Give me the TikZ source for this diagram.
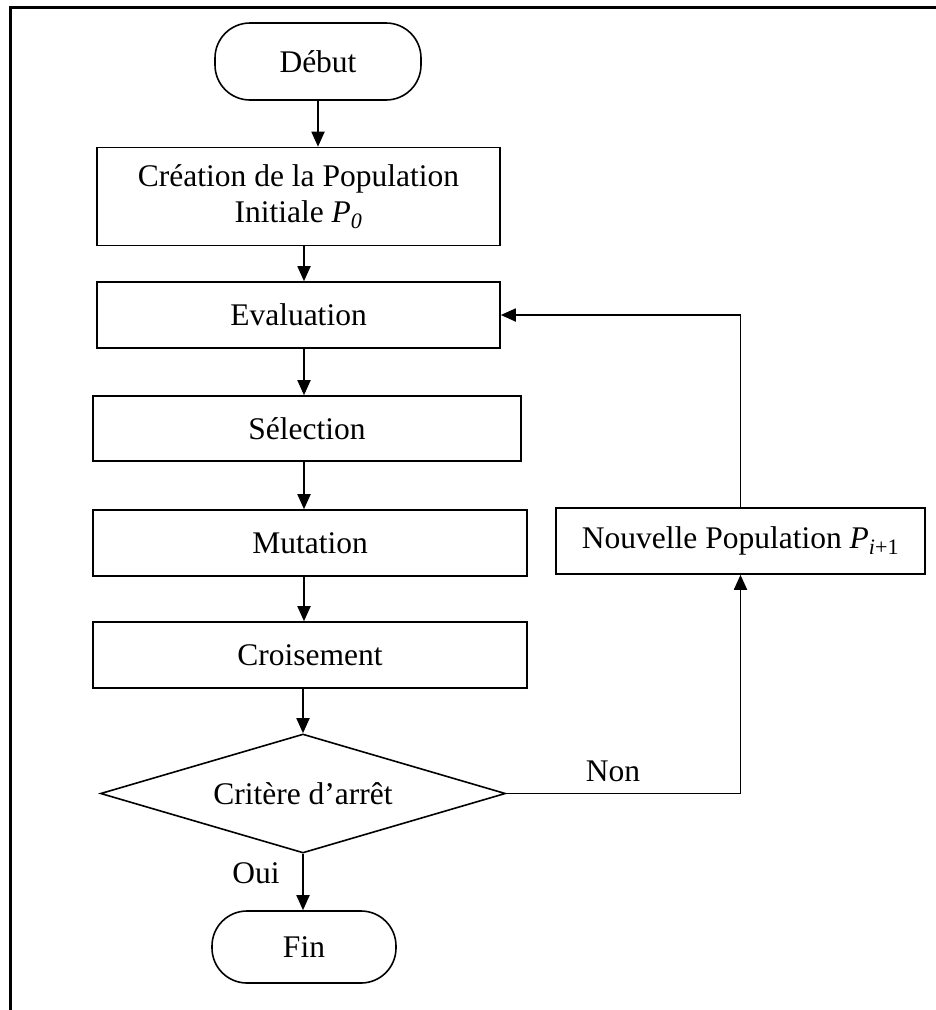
\documentclass[tikz,border=0pt]{standalone}
\usepackage{fontspec}
\setmainfont{Liberation Serif}
\usetikzlibrary{arrows.meta,shapes.geometric}
\begin{document}
\begin{tikzpicture}[x=1pt,y=-1pt,
  every node/.style={font=\fontsize{31.5}{36}\selectfont},
  box/.style={draw, line width=1.6pt, rectangle, inner sep=0pt, align=center},
  term/.style={draw, line width=1.6pt, rectangle, rounded corners=35pt, inner sep=0pt},
  test/.style={draw, line width=1.6pt, diamond, aspect=3.4, inner sep=0pt},
  arr/.style={line width=1.8pt, -{Triangle[width=13pt,length=15pt]}},
  lbl/.style={inner sep=0pt}
]
\useasboundingbox (0,0) rectangle (936,1010);
% open frame: left and top edges
\draw[line width=3pt] (10,1010) -- (10,7) -- (936,7);

% flow axis for the vertical connectors
\coordinate (axis) at (304,0);

\node[term, minimum width=206pt, minimum height=77pt] (deb) at (318,61.5) {Début};
\node[box, minimum width=403pt, minimum height=98pt] (cre) at (298.5,196.5)
  {Création de la Population\\Initiale \textit{P\textsubscript{0}}};
\node[box, minimum width=403pt, minimum height=66pt] (eva) at (298.5,315) {Evaluation};
\node[box, minimum width=428pt, minimum height=65pt] (sel) at (307,428.5) {Sélection};
\node[box, minimum width=434pt, minimum height=66pt] (mut) at (310,543) {Mutation};
\node[box, minimum width=434pt, minimum height=66pt] (cro) at (310,655) {Croisement};
\node[test, minimum width=405pt, minimum height=119pt] (dia) at (303,793.5) {Critère d’arrêt};
\node[term, minimum width=184pt, minimum height=72pt] (fin) at (304,947) {Fin};
\node[box, minimum width=369pt, minimum height=66pt] (nou) at (740.5,541)
  {Nouvelle Population \textit{P}\textsubscript{\textit{i}+1}};

% main chain
\draw[arr] (deb.south) -- (deb.south |- cre.north);
\draw[arr] (cre.south -| axis) -- (eva.north -| axis);
\draw[arr] (eva.south -| axis) -- (sel.north -| axis);
\draw[arr] (sel.south -| axis) -- (mut.north -| axis);
\draw[arr] (mut.south -| axis) -- (cro.north -| axis);
\draw[arr] (cro.south -| dia.north) -- (dia.north);
\draw[arr] (dia.south) -- (dia.south |- fin.north);

% loop back
\draw[arr] (dia.east) -| (nou.south);
\draw[arr] (nou.north) |- (eva.east);

\node[lbl] (non) at (613,771) {Non};
\node[lbl] (oui) at (256,873) {Oui};
\end{tikzpicture}
\end{document}
